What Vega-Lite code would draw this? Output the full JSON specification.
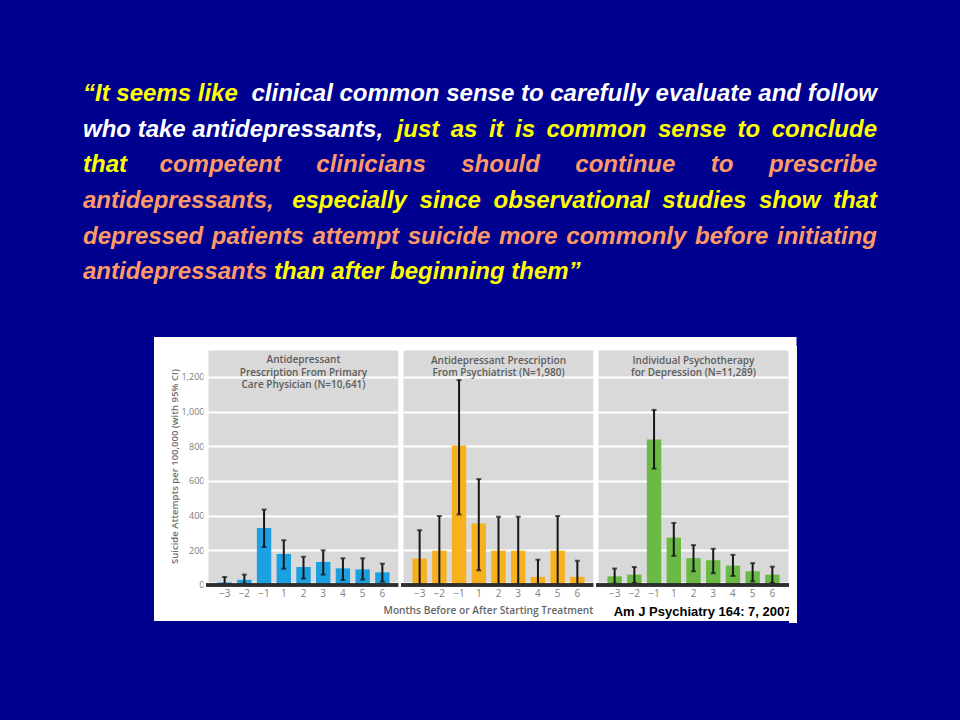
{
  "$schema": "https://vega.github.io/schema/vega-lite/v6.json",
  "background": "#00008e",
  "padding": {"left": 83, "top": 76, "right": 83, "bottom": 97},
  "datasets": {
    "quote": [
      {"line": 1, "anchor": "start", "part": 1, "voice": "highlight", "text": "“It seems like"},
      {"line": 1, "anchor": "end", "part": 2, "voice": "plain", "text": "clinical common sense to carefully evaluate and follow"},
      {"line": 2, "anchor": "start", "part": 1, "voice": "plain", "text": "who take antidepressants,"},
      {"line": 2, "anchor": "end", "part": 2, "voice": "highlight", "text": "just\u2009 as\u2009 it\u2009 is\u2009 common\u2009 sense\u2009 to\u2009 conclude"},
      {"line": 3, "anchor": "start", "part": 1, "voice": "highlight", "text": "that"},
      {"line": 3, "anchor": "end", "part": 2, "voice": "argument", "text": "competent\u2003\u2009 clinicians\u2003\u2009 should\u2003\u2009 continue\u2003\u2009 to\u2003\u2009 prescribe"},
      {"line": 4, "anchor": "start", "part": 1, "voice": "argument", "text": "antidepressants,"},
      {"line": 4, "anchor": "end", "part": 2, "voice": "highlight", "text": "especially\u2005 since\u2005 observational\u2005 studies\u2005 show\u2005 that"},
      {"line": 5, "anchor": "start", "part": 1, "voice": "argument", "text": "depressed\u200a patients\u200a attempt\u200a suicide"},
      {"line": 5, "anchor": "end", "part": 2, "voice": "argument", "text": "more\u200a commonly\u200a before\u200a initiating"},
      {"line": 6, "anchor": "start", "part": 1, "voice": "argument", "text": "antidepressants"},
      {"line": 6, "anchor": "start", "part": 2, "voice": "highlight", "text": "than after beginning them”"}
    ],
    "rates": [
      {"source": "Primary care physician", "month": "−3", "rate": 15, "lo": 2, "hi": 46},
      {"source": "Primary care physician", "month": "−2", "rate": 30, "lo": 7, "hi": 60},
      {"source": "Primary care physician", "month": "−1", "rate": 329, "lo": 219, "hi": 435},
      {"source": "Primary care physician", "month": "1", "rate": 179, "lo": 94, "hi": 258},
      {"source": "Primary care physician", "month": "2", "rate": 104, "lo": 37, "hi": 163},
      {"source": "Primary care physician", "month": "3", "rate": 133, "lo": 60, "hi": 200},
      {"source": "Primary care physician", "month": "4", "rate": 96, "lo": 29, "hi": 154},
      {"source": "Primary care physician", "month": "5", "rate": 90, "lo": 31, "hi": 154},
      {"source": "Primary care physician", "month": "6", "rate": 73, "lo": 19, "hi": 123},
      {"source": "Psychiatrist", "month": "−3", "rate": 153, "lo": 0, "hi": 316},
      {"source": "Psychiatrist", "month": "−2", "rate": 198, "lo": 0, "hi": 398},
      {"source": "Psychiatrist", "month": "−1", "rate": 805, "lo": 407, "hi": 1182},
      {"source": "Psychiatrist", "month": "1", "rate": 355, "lo": 85, "hi": 611},
      {"source": "Psychiatrist", "month": "2", "rate": 198, "lo": 0, "hi": 394},
      {"source": "Psychiatrist", "month": "3", "rate": 198, "lo": 0, "hi": 394},
      {"source": "Psychiatrist", "month": "4", "rate": 47, "lo": 0, "hi": 146},
      {"source": "Psychiatrist", "month": "5", "rate": 198, "lo": 0, "hi": 398},
      {"source": "Psychiatrist", "month": "6", "rate": 47, "lo": 0, "hi": 140},
      {"source": "Psychotherapy", "month": "−3", "rate": 50, "lo": 8, "hi": 95},
      {"source": "Psychotherapy", "month": "−2", "rate": 60, "lo": 12, "hi": 104},
      {"source": "Psychotherapy", "month": "−1", "rate": 839, "lo": 671, "hi": 1010},
      {"source": "Psychotherapy", "month": "1", "rate": 273, "lo": 168, "hi": 358},
      {"source": "Psychotherapy", "month": "2", "rate": 155, "lo": 79, "hi": 230},
      {"source": "Psychotherapy", "month": "3", "rate": 143, "lo": 68, "hi": 209},
      {"source": "Psychotherapy", "month": "4", "rate": 112, "lo": 52, "hi": 174},
      {"source": "Psychotherapy", "month": "5", "rate": 79, "lo": 21, "hi": 126},
      {"source": "Psychotherapy", "month": "6", "rate": 60, "lo": 12, "hi": 106}
    ]
  },
  "vconcat": [
    {
      "width": 794,
      "height": 214,
      "data": {"name": "quote"},
      "view": {"stroke": null},
      "encoding": {
        "y": {"field": "line", "type": "ordinal", "scale": {"type": "point", "padding": 0.5}, "axis": null},
        "x": {"field": "anchor", "type": "nominal", "scale": {"type": "point", "domain": ["start", "end"], "padding": 0}, "axis": null},
        "text": {"field": "text"},
        "color": {"field": "voice", "type": "nominal", "scale": {"domain": ["highlight", "plain", "argument"], "range": ["#ffff00", "#ffffff", "#ff9966"]}, "legend": null}
      },
      "layer": [
        {
          "transform": [{"filter": "datum.anchor === 'start' && datum.part === 1"}],
          "mark": {"type": "text", "align": "left", "baseline": "middle", "font": "Liberation Sans", "fontSize": 24, "fontWeight": "bold", "fontStyle": "italic"}
        },
        {
          "transform": [{"filter": "datum.anchor === 'end'"}],
          "mark": {"type": "text", "align": "right", "baseline": "middle", "font": "Liberation Sans", "fontSize": 24, "fontWeight": "bold", "fontStyle": "italic"}
        },
        {
          "transform": [{"filter": "datum.anchor === 'start' && datum.part === 2"}],
          "mark": {"type": "text", "align": "left", "dx": 191, "baseline": "middle", "font": "Liberation Sans", "fontSize": 24, "fontWeight": "bold", "fontStyle": "italic"}
        }
      ]
    },
    {
      "spacing": 0,
      "bounds": "flush",
      "hconcat": [
        {
          "width": 82,
          "height": 10,
          "data": {"values": []},
          "view": {"stroke": null, "fill": null},
          "mark": "point"
        },
        {
          "width": 41,
          "height": 262,
          "data": {"values": []},
          "view": {"fill": "#ffffff", "stroke": "#ffffff", "strokeWidth": 22},
          "mark": "point",
          "encoding": {
            "y": {
              "field": "rate", "type": "quantitative",
              "scale": {"domain": [-144.2, 1367], "nice": false, "zero": false},
              "axis": {
                "offset": -41, "values": [0, 200, 400, 600, 800, 1000, 1200], "format": ",d",
                "ticks": false, "tickSize": 0, "domain": false, "grid": false,
                "labelPadding": 2, "labelFontSize": 9, "labelColor": "#7a7a7a", "labelFont": "Open Sans",
                "title": "Suicide Attempts per 100,000 (with 95% CI)",
                "titleX": -32, "titleY": 118, "titleBaseline": "middle",
                "titleFontSize": 9.5, "titleColor": "#6e6e6e", "titleFontWeight": 600, "titleFont": "Open Sans"
              }
            }
          }
        },
        {
          "width": 195,
          "height": 237,
          "data": {"name": "rates"},
          "transform": [{"filter": "datum.source === 'Primary care physician'"}],
          "view": {"fill": "#d9d9d9", "stroke": "#ffffff", "strokeWidth": 5},
          "title": {"text": ["Antidepressant", "Prescription From Primary", "Care Physician (N=10,641)"], "frame": "group", "anchor": "middle", "offset": -47.5, "fontSize": 10, "font": "Open Sans", "fontWeight": 600, "color": "#5c5c5c", "lineHeight": 12.3},
          "layer": [
            {
              "mark": {"type": "bar", "color": "#1ba1e2"},
              "encoding": {
                "x": {"field": "month", "type": "ordinal", "sort": ["−3", "−2", "−1", "1", "2", "3", "4", "5", "6"], "scale": {"paddingInner": 0.27, "paddingOuter": 0.58},
                  "axis": {"orient": "bottom", "title": null, "labels": false, "ticks": false, "grid": false, "domainColor": "#ffffff", "domainWidth": 36, "offset": 18, "domainCap": "butt", "translate": 0, "zindex": 0}},
                "y": {"field": "rate", "type": "quantitative", "scale": {"domain": [0, 1367], "nice": false},
                  "axis": {"values": [200, 400, 600, 800, 1000, 1200], "labels": false, "ticks": false, "domain": false, "title": null, "grid": true, "gridColor": "#ffffff", "gridWidth": 2}}
              }
            },
            {
              "mark": {"type": "rule", "color": "#161616", "strokeWidth": 2},
              "encoding": {
                "x": {"field": "month", "type": "ordinal", "sort": ["−3", "−2", "−1", "1", "2", "3", "4", "5", "6"], "scale": {"paddingInner": 0.27, "paddingOuter": 0.58},
                  "axis": {"orient": "bottom", "title": null, "labelAngle": 0, "ticks": false, "domain": false, "grid": false, "zindex": 1, "labelPadding": 3, "labelFontSize": 10, "labelColor": "#808080", "labelFont": "Open Sans"}},
                "y": {"field": "lo", "type": "quantitative", "axis": null},
                "y2": {"field": "hi"}
              }
            },
            {
              "mark": {"type": "tick", "color": "#161616", "size": 5, "thickness": 2},
              "encoding": {
                "x": {"field": "month", "type": "ordinal", "sort": ["−3", "−2", "−1", "1", "2", "3", "4", "5", "6"], "scale": {"paddingInner": 0.27, "paddingOuter": 0.58},
                  "axis": {"orient": "top", "title": null, "labels": false, "ticks": false, "grid": false, "domainColor": "#ffffff", "domainWidth": 11, "offset": 5.5, "domainCap": "square", "translate": 0}},
                "y": {"field": "hi", "type": "quantitative", "axis": null}
              }
            },
            {
              "mark": {"type": "tick", "color": "#161616", "size": 5, "thickness": 2},
              "encoding": {
                "x": {"field": "month", "type": "ordinal", "sort": ["−3", "−2", "−1", "1", "2", "3", "4", "5", "6"], "scale": {"paddingInner": 0.27, "paddingOuter": 0.58}, "axis": null},
                "y": {"field": "lo", "type": "quantitative", "axis": null}
              }
            },
            {
              "mark": {"type": "rule", "color": "#2e2e2e", "strokeWidth": 2.5},
              "encoding": {"y": {"datum": 0, "type": "quantitative", "axis": null}}
            }
          ],
          "resolve": {"axis": {"x": "independent", "y": "independent"}}
        },
        {
          "width": 195,
          "height": 237,
          "data": {"name": "rates"},
          "transform": [{"filter": "datum.source === 'Psychiatrist'"}],
          "view": {"fill": "#d9d9d9", "stroke": "#ffffff", "strokeWidth": 5},
          "title": {"text": ["Antidepressant Prescription", "From Psychiatrist (N=1,980)"], "frame": "group", "anchor": "middle", "offset": -36, "fontSize": 10, "font": "Open Sans", "fontWeight": 600, "color": "#5c5c5c", "lineHeight": 12.3},
          "layer": [
            {
              "mark": {"type": "bar", "color": "#f7b11e"},
              "encoding": {
                "x": {"field": "month", "type": "ordinal", "sort": ["−3", "−2", "−1", "1", "2", "3", "4", "5", "6"], "scale": {"paddingInner": 0.27, "paddingOuter": 0.58},
                  "axis": {"orient": "bottom", "title": null, "labels": false, "ticks": false, "grid": false, "domainColor": "#ffffff", "domainWidth": 36, "offset": 18, "domainCap": "butt", "translate": 0, "zindex": 0}},
                "y": {"field": "rate", "type": "quantitative", "scale": {"domain": [0, 1367], "nice": false},
                  "axis": {"values": [200, 400, 600, 800, 1000, 1200], "labels": false, "ticks": false, "domain": false, "title": null, "grid": true, "gridColor": "#ffffff", "gridWidth": 2}}
              }
            },
            {
              "mark": {"type": "rule", "color": "#161616", "strokeWidth": 2},
              "encoding": {
                "x": {"field": "month", "type": "ordinal", "sort": ["−3", "−2", "−1", "1", "2", "3", "4", "5", "6"], "scale": {"paddingInner": 0.27, "paddingOuter": 0.58},
                  "axis": {"orient": "bottom", "title": "Months Before or After Starting Treatment", "titleX": -18, "titleAlign": "left", "titleY": 25, "titleBaseline": "middle", "titleFontSize": 10.2, "titleColor": "#666666", "titleFontWeight": 600, "titleFont": "Open Sans", "labelAngle": 0, "ticks": false, "domain": false, "grid": false, "zindex": 1, "labelPadding": 3, "labelFontSize": 10, "labelColor": "#808080", "labelFont": "Open Sans"}},
                "y": {"field": "lo", "type": "quantitative", "axis": null},
                "y2": {"field": "hi"}
              }
            },
            {
              "mark": {"type": "tick", "color": "#161616", "size": 5, "thickness": 2},
              "encoding": {
                "x": {"field": "month", "type": "ordinal", "sort": ["−3", "−2", "−1", "1", "2", "3", "4", "5", "6"], "scale": {"paddingInner": 0.27, "paddingOuter": 0.58},
                  "axis": {"orient": "top", "title": null, "labels": false, "ticks": false, "grid": false, "domainColor": "#ffffff", "domainWidth": 11, "offset": 5.5, "domainCap": "square", "translate": 0}},
                "y": {"field": "hi", "type": "quantitative", "axis": null}
              }
            },
            {
              "mark": {"type": "tick", "color": "#161616", "size": 5, "thickness": 2},
              "encoding": {
                "x": {"field": "month", "type": "ordinal", "sort": ["−3", "−2", "−1", "1", "2", "3", "4", "5", "6"], "scale": {"paddingInner": 0.27, "paddingOuter": 0.58}, "axis": null},
                "y": {"field": "lo", "type": "quantitative", "axis": null}
              }
            },
            {
              "mark": {"type": "rule", "color": "#2e2e2e", "strokeWidth": 2.5},
              "encoding": {"y": {"datum": 0, "type": "quantitative", "axis": null}}
            }
          ],
          "resolve": {"axis": {"x": "independent", "y": "independent"}}
        },
        {
          "width": 195,
          "height": 237,
          "data": {"name": "rates"},
          "transform": [{"filter": "datum.source === 'Psychotherapy'"}],
          "view": {"fill": "#d9d9d9", "stroke": "#ffffff", "strokeWidth": 5},
          "title": {"text": ["Individual Psychotherapy", "for Depression (N=11,289)"], "frame": "group", "anchor": "middle", "offset": -36, "fontSize": 10, "font": "Open Sans", "fontWeight": 600, "color": "#5c5c5c", "lineHeight": 12.3},
          "layer": [
            {
              "mark": {"type": "bar", "color": "#6cba46"},
              "encoding": {
                "x": {"field": "month", "type": "ordinal", "sort": ["−3", "−2", "−1", "1", "2", "3", "4", "5", "6"], "scale": {"paddingInner": 0.27, "paddingOuter": 0.58},
                  "axis": {"orient": "bottom", "title": null, "labels": false, "ticks": false, "grid": false, "domainColor": "#ffffff", "domainWidth": 36, "offset": 18, "domainCap": "butt", "translate": 0, "zindex": 0}},
                "y": {"field": "rate", "type": "quantitative", "scale": {"domain": [0, 1367], "nice": false},
                  "axis": {"values": [200, 400, 600, 800, 1000, 1200], "labels": false, "ticks": false, "domain": false, "title": null, "grid": true, "gridColor": "#ffffff", "gridWidth": 2}}
              }
            },
            {
              "mark": {"type": "rule", "color": "#161616", "strokeWidth": 2},
              "encoding": {
                "x": {"field": "month", "type": "ordinal", "sort": ["−3", "−2", "−1", "1", "2", "3", "4", "5", "6"], "scale": {"paddingInner": 0.27, "paddingOuter": 0.58},
                  "axis": {"orient": "bottom", "title": "Am J Psychiatry 164: 7, 2007", "titleAnchor": "end", "titleY": 26, "titleBaseline": "middle", "titleFontSize": 13, "titleColor": "#000000", "titleFontWeight": "bold", "titleFont": "Liberation Sans", "labelAngle": 0, "ticks": false, "domain": false, "grid": false, "zindex": 1, "labelPadding": 3, "labelFontSize": 10, "labelColor": "#808080", "labelFont": "Open Sans"}},
                "y": {"field": "lo", "type": "quantitative", "axis": null},
                "y2": {"field": "hi"}
              }
            },
            {
              "mark": {"type": "tick", "color": "#161616", "size": 5, "thickness": 2},
              "encoding": {
                "x": {"field": "month", "type": "ordinal", "sort": ["−3", "−2", "−1", "1", "2", "3", "4", "5", "6"], "scale": {"paddingInner": 0.27, "paddingOuter": 0.58},
                  "axis": {"orient": "top", "title": null, "labels": false, "ticks": false, "grid": false, "domainColor": "#ffffff", "domainWidth": 11, "offset": 5.5, "domainCap": "square", "translate": 0}},
                "y": {"field": "hi", "type": "quantitative", "axis": null}
              }
            },
            {
              "mark": {"type": "tick", "color": "#161616", "size": 5, "thickness": 2},
              "encoding": {
                "x": {"field": "month", "type": "ordinal", "sort": ["−3", "−2", "−1", "1", "2", "3", "4", "5", "6"], "scale": {"paddingInner": 0.27, "paddingOuter": 0.58}, "axis": null},
                "y": {"field": "lo", "type": "quantitative", "axis": null}
              }
            },
            {
              "mark": {"type": "rule", "color": "#2e2e2e", "strokeWidth": 2.5},
              "encoding": {"y": {"datum": 0, "type": "quantitative", "axis": null}}
            }
          ],
          "resolve": {"axis": {"x": "independent", "y": "independent"}}
        },
        {
          "width": 4,
          "height": 273,
          "data": {"values": []},
          "view": {"fill": "#ffffff", "stroke": "#ffffff", "strokeWidth": 4},
          "mark": "point"
        }
      ]
    }
  ],
  "spacing": 58,
  "bounds": "flush",
  "config": {
    "font": "Open Sans"
  }
}
